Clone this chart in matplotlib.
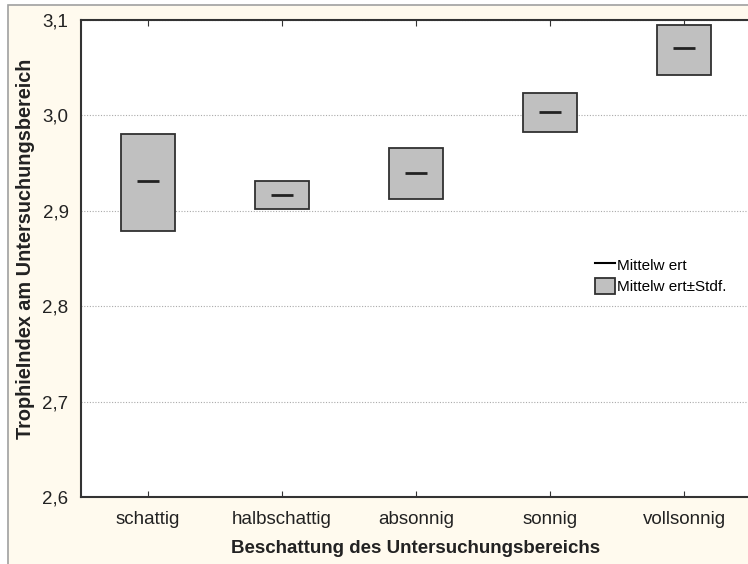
import matplotlib.pyplot as plt
from matplotlib.patches import Rectangle
from matplotlib.lines import Line2D

plt.rcParams['font.family'] = ['Liberation Sans', 'DejaVu Sans']

categories = ['schattig', 'halbschattig', 'absonnig', 'sonnig', 'vollsonnig']
means = [2.931, 2.917, 2.940, 3.004, 3.071]
upper = [2.981, 2.931, 2.966, 3.024, 3.095]
lower = [2.879, 2.902, 2.912, 2.983, 3.042]
yticks = [2.6, 2.7, 2.8, 2.9, 3.0, 3.1]

W, H = 748, 564
fig = plt.figure(figsize=(W / 100, H / 100), dpi=100, facecolor='white')

# cream panel with grey border
fig.patches.append(Rectangle((8 / W, -0.01), 1.0, 1 - 5 / H + 0.01, transform=fig.transFigure,
                             facecolor='#FFFAEE', edgecolor='#A0A0A0', lw=1.2, zorder=-10))

ax = fig.add_axes([81 / W, 1 - 497 / H, (751 - 81) / W, (497 - 20) / H])
ax.set_facecolor('white')
ax.set_xlim(0.5, 5.5)
ax.set_ylim(2.6, 3.1)

box_w = 0.4
for i, (m, lo, hi) in enumerate(zip(means, lower, upper)):
    x = i + 1
    ax.add_patch(Rectangle((x - box_w / 2, lo), box_w, hi - lo, facecolor='#C0C0C0',
                           edgecolor='#303030', lw=1.3, zorder=3))
    ax.plot([x - 0.085, x + 0.085], [m, m], color='#222222', lw=2, zorder=4,
            solid_capstyle='butt')

ax.set_yticks(yticks)
ax.set_yticklabels([f'{v:.1f}'.replace('.', ',') for v in yticks], fontsize=13.5)
ax.set_xticks(range(1, len(categories) + 1))
ax.set_xticklabels(categories, fontsize=13.5)
ax.tick_params(axis='x', direction='in', length=4, top=True, pad=10, colors='#333333',
               labelcolor='#222222')
ax.tick_params(axis='y', direction='out', length=0, pad=9, labelcolor='#222222')
ax.grid(axis='y', linestyle=(0, (1, 1.5)), color='#AAAAAA', lw=0.8)
for s in ax.spines.values():
    s.set_color('#333333')
    s.set_linewidth(1.5)

ax.set_xlabel('Beschattung des Untersuchungsbereichs', fontsize=13.5, fontweight='bold',
              labelpad=9, color='#222222')
ax.set_ylabel('TrophieIndex am Untersuchungsbereich', fontsize=14.3, fontweight='bold',
              color='#222222')
ax.yaxis.set_label_coords(-0.069, 0.52)

handles = [Line2D([0], [0], color='black', lw=1.5),
           Rectangle((0, 0), 1, 1, facecolor='#C0C0C0', edgecolor='#303030', lw=1.3)]
ax.legend(handles, ['Mittelw ert', 'Mittelw ert±Stdf.'], loc='upper left',
          bbox_to_anchor=(0.756, 0.52), frameon=False, fontsize=11,
          handlelength=1.3, handleheight=1.2, handletextpad=0.15, labelspacing=0.35,
          borderpad=0)

fig.savefig('out.png', dpi=100, facecolor=fig.get_facecolor())
